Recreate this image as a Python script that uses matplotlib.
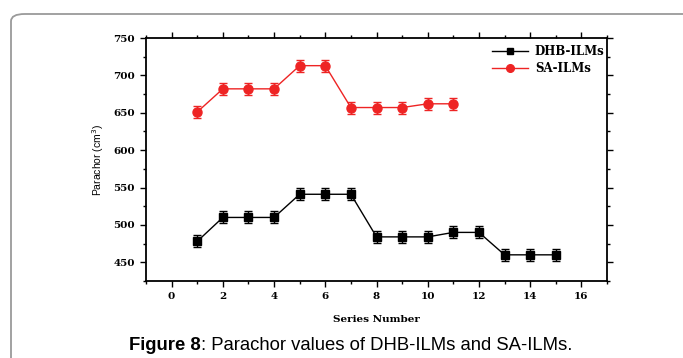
import matplotlib
matplotlib.use("Agg")
import matplotlib.pyplot as plt
from matplotlib.patches import FancyBboxPatch
from matplotlib.lines import Line2D
from matplotlib.ticker import MultipleLocator

dhb_x = list(range(1, 16))
dhb_y = [478, 510, 510, 510, 541, 541, 541, 484, 484, 484, 490, 490, 460, 460, 460]
dhb_err = [8] * 15
sa_x = list(range(1, 12))
sa_y = [651, 682, 682, 682, 713, 713, 657, 657, 657, 662, 662]
sa_err = [8] * 11

W, H = 683, 358
fig = plt.figure(figsize=(W / 100, H / 100), dpi=100)
fig.patch.set_facecolor("white")

# outer frame
frame = FancyBboxPatch((11 / W, -0.2), 1.2, (H - 14) / H + 0.2,
                       boxstyle="round,pad=0,rounding_size=0.02",
                       transform=fig.transFigure, fill=False,
                       edgecolor="#9a9a9a", linewidth=1.3)
fig.patches.append(frame)

RED = "#ee2424"
ax = fig.add_axes([146 / W, 1 - 281 / H, (607 - 146) / W, (281 - 38) / H])
ax.errorbar(dhb_x, dhb_y, yerr=dhb_err, color="black", marker="s", markersize=6,
            linewidth=1.0, capsize=3, elinewidth=1.0, capthick=1.0)
ax.errorbar(sa_x, sa_y, yerr=sa_err, color=RED, marker="o", markersize=6.5,
            linewidth=1.0, capsize=3, elinewidth=1.0, capthick=1.0)

ax.set_xlim(-1, 17)
ax.set_ylim(425, 750)
ax.xaxis.set_major_locator(MultipleLocator(2))
ax.xaxis.set_minor_locator(MultipleLocator(1))
ax.yaxis.set_major_locator(MultipleLocator(50))
ax.yaxis.set_minor_locator(MultipleLocator(25))
ax.tick_params(which="both", direction="out", top=True, right=True,
               labeltop=False, labelright=False, width=1.0)
ax.tick_params(which="major", length=4, pad=4)
ax.tick_params(which="minor", length=2.5)
for s in ax.spines.values():
    s.set_linewidth(1.3)

for lab in ax.get_xticklabels() + ax.get_yticklabels():
    lab.set_fontfamily("DejaVu Serif")
    lab.set_fontweight("bold")
    lab.set_fontsize(7.5)

ax.set_xlabel("Series Number", family="DejaVu Serif", weight="bold", fontsize=7.5,
              labelpad=10)
ax.set_ylabel("Parachor (cm$^3$)", family="Liberation Sans", fontsize=7.5, labelpad=5)

handles = [Line2D([], [], color="black", marker="s", markersize=5, linewidth=1.0),
           Line2D([], [], color=RED, marker="o", markersize=5.5, linewidth=1.0)]
ax.legend(handles, ["DHB-ILMs", "SA-ILMs"], loc="upper right", frameon=False,
          prop=dict(family="DejaVu Serif", weight="bold", size=8.5),
          handlelength=3.0, handletextpad=0.6, borderaxespad=0.2, labelspacing=0.35,
          bbox_to_anchor=(1.01, 1.0))

t1 = fig.text(129 / W, 1 - 346 / H, "Figure 8", family="Liberation Sans", weight="bold",
              fontsize=13.3, va="center", ha="left")
r = fig.canvas.get_renderer()
bb = t1.get_window_extent(r)
fig.text(bb.x1 / W, 1 - 346 / H, ": Parachor values of DHB-ILMs and SA-ILMs.",
         family="Liberation Sans", fontsize=13.3, va="center", ha="left")

fig.savefig("out.png", dpi=100)
